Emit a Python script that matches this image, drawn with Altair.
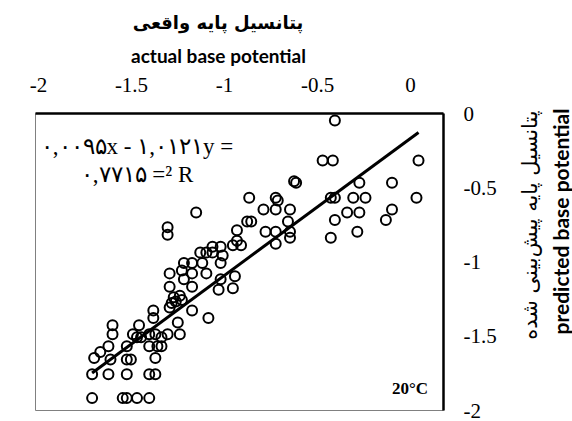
import altair as alt
import pandas as pd

# Observed (actual) and model-predicted base potential, one pair per sample
actual = [
    -0.53, -0.59, -0.54, -0.12, -0.73, -0.72, -0.41, -0.25, -0.95, -0.82,
    -0.81, -0.55, -0.53, -0.44, -0.38, -0.13, -1.21, -0.88, -0.82, -0.75,
    -0.47, -0.41, -0.25, -0.96, -0.94, -0.76, -0.53, -0.28, -1.35, -1.35,
    -1.01, -0.87, -0.82, -0.75, -0.42, -0.55, -1.01, -0.82, -0.75, -1.03,
    -0.99, -1.13, -1.19, -1.16, -1.13, -1.08, -1.09, -1.23, -1.18, -1.09,
    -1.27, -1.34, -1.28, -1.23, -1.16, -1.27, -1.09, -1.02, -1.03, -1.10,
    -1.34, -1.23, -1.32, -1.29, -1.31, -1.28, -1.33, -1.42, -1.34, -1.23,
    -1.15, -1.42, -1.49, -1.62, -1.30, -1.62, -1.52, -1.50, -1.48, -1.44,
    -1.41, -1.38, -1.35, -1.29, -1.64, -1.55, -1.44, -1.40, -1.38, -1.71,
    -1.63, -1.55, -1.53, -1.41, -1.72, -1.64, -1.55, -1.44, -1.41, -1.72,
    -1.57, -1.55, -1.50, -1.44, -1.68,
]
predicted = [
    -0.05, -0.32, -0.32, -0.32, -0.46, -0.47, -0.47, -0.47, -0.57, -0.57,
    -0.59, -0.57, -0.57, -0.57, -0.57, -0.57, -0.67, -0.65, -0.65, -0.65,
    -0.67, -0.67, -0.65, -0.73, -0.73, -0.73, -0.72, -0.72, -0.77, -0.82,
    -0.79, -0.80, -0.80, -0.80, -0.80, -0.84, -0.86, -0.88, -0.84, -0.89,
    -0.89, -0.90, -0.94, -0.94, -0.94, -0.96, -0.90, -1.01, -1.01, -1.01,
    -1.01, -1.08, -1.06, -1.08, -1.08, -1.12, -1.12, -1.10, -1.18, -1.19,
    -1.17, -1.17, -1.24, -1.23, -1.27, -1.26, -1.28, -1.33, -1.31, -1.33,
    -1.38, -1.38, -1.43, -1.43, -1.41, -1.49, -1.49, -1.51, -1.51, -1.49,
    -1.49, -1.51, -1.49, -1.49, -1.57, -1.57, -1.57, -1.57, -1.57, -1.65,
    -1.66, -1.66, -1.66, -1.65, -1.76, -1.76, -1.76, -1.76, -1.76, -1.92,
    -1.92, -1.92, -1.92, -1.92, -1.61,
]

# Linear trend line and its goodness of fit
slope = 1.0121
intercept = -0.0095
r_squared = 0.7715

x_ticks = [-2, -1.5, -1, -0.5, 0]
y_ticks = [0, -0.5, -1, -1.5, -2]

x_title_fa = "پتانسیل پایه واقعی"
x_title_en = "actual base potential"
y_title_fa = "پتانسیل پایه پیش\u200cبینی شده"
y_title_en = "predicted base potential"
panel_label = "20°C"

SERIF = "Liberation Serif, Times New Roman, serif"

# Persian digits with a comma as decimal separator
fa_digits = str.maketrans("0123456789", "۰۱۲۳۴۵۶۷۸۹")


def fa_num(v):
    return f"{v:.4f}".replace(".", ",").translate(fa_digits)


eq_line1 = f"{fa_num(abs(intercept))}x - {fa_num(slope)}y ="
eq_line2 = f"{fa_num(r_squared)} =² R"

pts = pd.DataFrame({"actual": actual, "predicted": predicted})
x_lo, x_hi = min(actual), max(actual)
fit = pd.DataFrame({
    "actual": [x_lo, x_hi],
    "predicted": [slope * x_lo + intercept, slope * x_hi + intercept],
})

x_scale = alt.Scale(domain=[-2, 0], nice=False, zero=False)
y_scale = alt.Scale(domain=[-2, 0], nice=False, zero=False)

y_axis = alt.Axis(
    orient="right", values=y_ticks, labelExpr="toString(datum.value)",
    labelFont=SERIF, labelFontSize=21, labelColor="black",
    labelPadding=20, labelOffset=1, labelFlush=False, labelOverlap=False,
    ticks=False, grid=False, domainColor="black", domainWidth=2.5,
    title=y_title_en, titleFont="Lato", titleFontSize=21,
    titleFontWeight="bold", titleColor="black", titleAngle=270,
    titleX=119, titleY=108, titleAlign="center", titleBaseline="middle",
)

points = alt.Chart(pts).mark_point(
    shape="circle", filled=False, stroke="black", strokeWidth=2,
    size=100, opacity=1,
).encode(
    x=alt.X("actual:Q", scale=x_scale, axis=None),
    y=alt.Y("predicted:Q", scale=y_scale, axis=y_axis),
)

trend = alt.Chart(fit).mark_line(color="black", strokeWidth=3).encode(
    x=alt.X("actual:Q", scale=x_scale, axis=None),
    y=alt.Y("predicted:Q", scale=y_scale, axis=y_axis),
)


def note(text, x, y, **style):
    return alt.Chart(pd.DataFrame({"t": [text]})).mark_text(
        color="black", align="center", baseline="middle", **style
    ).encode(text="t:N", x=alt.value(x), y=alt.value(y))


eq1 = note(eq_line1, 102, 34, font=SERIF, fontSize=23)
eq2 = note(eq_line2, 102, 62, font=SERIF, fontSize=23)
temp = note(panel_label, 375, 276, font=SERIF, fontSize=17, fontWeight="bold")
fa_x = note(x_title_fa, 183, -89, font="DejaVu Sans", fontSize=18,
            fontWeight="bold")
fa_y = note(y_title_fa, 496, 112, font="DejaVu Sans", fontSize=21, angle=270)

# Top axis carrying the printed tick labels of the horizontal scale
x_axis = alt.Axis(
    orient="top", values=x_ticks, labelExpr="toString(datum.value)",
    labelFont=SERIF, labelFontSize=21, labelColor="black",
    labelPadding=18, labelFlush=False, labelOverlap=False,
    ticks=False, grid=False, domainColor="black", domainWidth=2.5,
    title=x_title_en, titleFont="Lato", titleFontSize=19,
    titleFontWeight="bold", titleColor="black",
    titleX=183, titleY=-57, titleAlign="center", titleBaseline="middle",
)
axis_layer = alt.Chart(pd.DataFrame({"tick": x_ticks})).mark_point(
    opacity=0
).encode(
    x=alt.X("tick:Q",
            scale=alt.Scale(domain=[-2.016, 0.177], nice=False, zero=False),
            axis=x_axis),
    y=alt.value(0),
)

chart = alt.layer(
    alt.layer(points, trend, eq1, eq2, temp, fa_x, fa_y),
    axis_layer,
).resolve_scale(x="independent").properties(
    width=408, height=297,
    autosize=alt.AutoSizeParams(type="none"),
    padding={"left": 35, "top": 113, "right": 129, "bottom": 11},
    background="white",
).configure_view(
    stroke="#808080", strokeWidth=1
).configure_axis(
    labelFont=SERIF
)

chart.save("out.html", embed_options={"renderer": "svg", "actions": False})
